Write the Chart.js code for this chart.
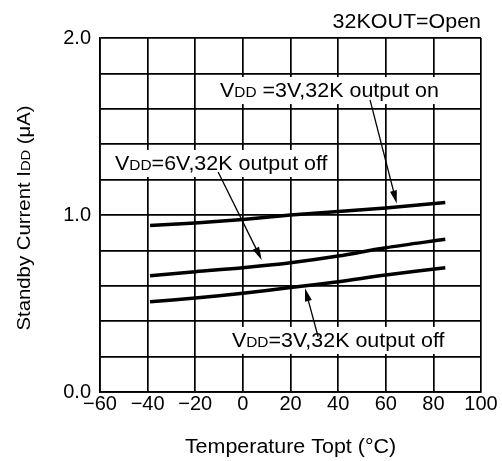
<!DOCTYPE html>
<html>
<head>
<meta charset="utf-8">
<script src="https://cdn.jsdelivr.net/npm/chart.js@4"></script>
<style>
  body { margin: 0; background: #fff; }
  #wrap { width: 502px; height: 461px; }
</style>
</head>
<body>
<div id="wrap"><canvas id="chart-area" width="502" height="461"></canvas></div>
<script>
// temperature (°C) and standby current (uA)
var temps = [-39, -20, 0, 20, 40, 60, 85];
var on3V = [0.94, 0.955, 0.975, 1.0, 1.02, 1.04, 1.07];
var off6V = [0.657, 0.68, 0.702, 0.73, 0.768, 0.815, 0.863];
var off3V = [0.51, 0.531, 0.558, 0.59, 0.623, 0.661, 0.702];

var xTicks = [-60, -40, -20, 0, 20, 40, 60, 80, 100];
var yLabelValues = [0, 1, 2];

var FONT = "'Liberation Sans', Arial, sans-serif";
var SX = 1.1; // text in the picture is a bit wide

// callouts, anchored in data units (temp, current)
var callouts = [
    { parts: [{t: "V"}, {t: "DD", small: true}, {t: " =3V,32K output on"}], at: [-9.6, 1.706],
      from: [53.4, 1.65], to: [64.6, 1.065] },
    { parts: [{t: "V"}, {t: "DD", small: true}, {t: "=6V,32K output off"}], at: [-53.7, 1.294],
      from: [-10.4, 1.243], to: [7.9, 0.746] },
    { parts: [{t: "V"}, {t: "DD", small: true}, {t: "=3V,32K output off"}], at: [-4.6, 0.294],
      from: [31.6, 0.312], to: [26.1, 0.586] }
];

function pts(ys) {
    var out = [];
    for (var i = 0; i < temps.length; i++) out.push({x: temps[i], y: ys[i]});
    return out;
}

function fontOf(size) { return size + "px " + FONT; }

function richWidth(ctx, parts, size) {
    var w = 0;
    parts.forEach(function (p) {
        ctx.font = fontOf(p.small ? size * 0.72 : size);
        w += ctx.measureText(p.t).width;
    });
    return w * SX;
}

// x = left edge, y = vertical middle of capitals
function drawRich(ctx, parts, x, y, size) {
    ctx.save();
    ctx.translate(x, y + size * 0.36);
    ctx.scale(SX, 1);
    ctx.fillStyle = "#000";
    ctx.textBaseline = "alphabetic";
    ctx.textAlign = "left";
    var cx = 0;
    parts.forEach(function (p) {
        ctx.font = fontOf(p.small ? size * 0.72 : size);
        ctx.fillText(p.t, cx, 0);
        cx += ctx.measureText(p.t).width;
    });
    ctx.restore();
}

function drawArrow(ctx, x1, y1, x2, y2) {
    var a = Math.atan2(y2 - y1, x2 - x1);
    var len = 13, hw = 3.5;
    ctx.save();
    ctx.strokeStyle = "#000";
    ctx.fillStyle = "#000";
    ctx.lineWidth = 1.3;
    ctx.beginPath();
    ctx.moveTo(x1, y1);
    ctx.lineTo(x2 - Math.cos(a) * len * 0.8, y2 - Math.sin(a) * len * 0.8);
    ctx.stroke();
    ctx.beginPath();
    ctx.moveTo(x2, y2);
    ctx.lineTo(x2 - Math.cos(a) * len + Math.sin(a) * hw, y2 - Math.sin(a) * len - Math.cos(a) * hw);
    ctx.lineTo(x2 - Math.cos(a) * len - Math.sin(a) * hw, y2 - Math.sin(a) * len + Math.cos(a) * hw);
    ctx.closePath();
    ctx.fill();
    ctx.restore();
}

var extras = {
    id: "extras",
    afterDatasetsDraw: function (chart) {
        var ctx = chart.ctx;
        var xs = chart.scales.x, ys = chart.scales.y;
        var area = chart.chartArea;
        var size = 19.5;

        callouts.forEach(function (c) {
            var x = xs.getPixelForValue(c.at[0]);
            var y = ys.getPixelForValue(c.at[1]);
            var w = richWidth(ctx, c.parts, size);
            ctx.fillStyle = "#fff";
            ctx.fillRect(x - 4, y - 13, w + 8, 27);
            drawRich(ctx, c.parts, x, y, size);
            drawArrow(ctx, xs.getPixelForValue(c.from[0]), ys.getPixelForValue(c.from[1]),
                xs.getPixelForValue(c.to[0]), ys.getPixelForValue(c.to[1]));
        });

        // top right note
        var note = [{t: "32KOUT=Open"}];
        var nw = richWidth(ctx, note, 19.5);
        drawRich(ctx, note, area.right - nw, area.top - 17, 19.5);

        // x title
        var xt = [{t: "Temperature Topt (°C)"}];
        var xw = richWidth(ctx, xt, 19.5);
        drawRich(ctx, xt, (area.left + area.right) / 2 - xw / 2, 446, 19.5);

        // y title
        var yt = [{t: "Standby Current I"}, {t: "DD", small: true}, {t: " (μA)"}];
        var yw = richWidth(ctx, yt, 18.5);
        ctx.save();
        ctx.translate(23, (area.top + area.bottom) / 2 + 3);
        ctx.rotate(-Math.PI / 2);
        drawRich(ctx, yt, -yw / 2, 0, 18.5);
        ctx.restore();
    }
};

function lineSet(data) {
    return {
        data: pts(data),
        borderColor: "#000",
        borderWidth: 3.5,
        pointRadius: 0,
        fill: false,
        tension: 0.3
    };
}

var config = {
    type: "line",
    data: {
        datasets: [lineSet(on3V), lineSet(off6V), lineSet(off3V)]
    },
    options: {
        responsive: false,
        animation: false,
        layout: { padding: { top: 38, right: 21, left: 0, bottom: 0 } },
        plugins: { legend: { display: false }, tooltip: { enabled: false } },
        scales: {
            x: {
                type: "linear",
                min: -60,
                max: 100,
                afterBuildTicks: function (scale) {
                    scale.ticks = xTicks.map(function (v) { return {value: v}; });
                },
                afterFit: function (scale) { scale.height = 69; },
                grid: { color: "#000", lineWidth: 1.7, drawTicks: false },
                border: { color: "#000", width: 1.7 },
                ticks: {
                    color: "#000",
                    padding: 0,
                    maxRotation: 0,
                    font: { family: FONT, size: 20 },
                    callback: function (v) { return v < 0 ? "\u2212" + Math.abs(v) : String(v); }
                }
            },
            y: {
                min: 0,
                max: 2,
                afterFit: function (scale) { scale.width = 100; },
                grid: { color: "#000", lineWidth: 1.7, drawTicks: false },
                border: { color: "#000", width: 1.7 },
                ticks: {
                    stepSize: 0.2,
                    color: "#000",
                    padding: 9,
                    autoSkip: false,
                    font: { family: FONT, size: 20 },
                    callback: function (v) {
                        var r = Math.round(v * 10) / 10;
                        return yLabelValues.indexOf(r) >= 0 ? r.toFixed(1) : "";
                    }
                }
            }
        }
    },
    plugins: [extras]
};

var ctx = document.getElementById("chart-area").getContext("2d");
window.myChart = new Chart(ctx, config);
</script>
</body>
</html>
